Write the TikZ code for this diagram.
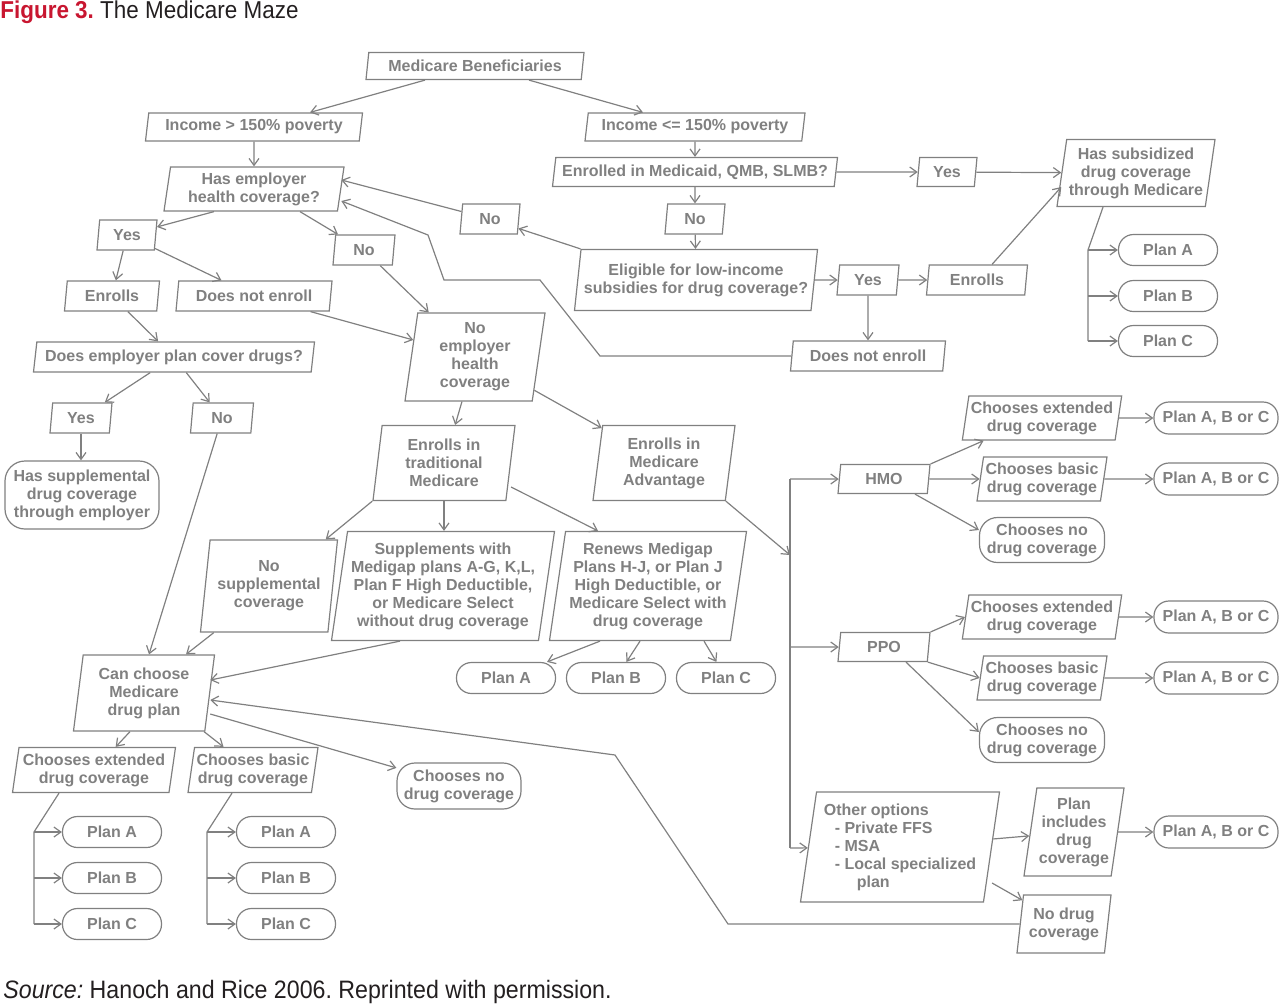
\documentclass[tikz,border=0pt]{standalone}
\usepackage{fontspec}
\setmainfont{Liberation Sans}
\newfontfamily\capfont[FakeStretch=0.92]{Liberation Sans}
\usetikzlibrary{shapes.geometric,arrows.meta}
\definecolor{mazegray}{RGB}{128,128,128}
\definecolor{mazered}{RGB}{200,22,48}
\definecolor{mazeink}{RGB}{35,31,32}
\frenchspacing
\begin{document}
\begin{tikzpicture}[x=0.5pt,y=-0.5pt,
    every node/.style={font=\fontsize{8}{9}\selectfont\bfseries, text=mazegray},
    pbox/.style 2 args={draw=mazegray, line width=0.6pt, trapezium, trapezium left angle=80, trapezium right angle=100, trapezium stretches body, align=center, inner sep=1pt, minimum width=0.5pt*#1, minimum height=0.5pt*#2},
    rbox/.style 2 args={draw=mazegray, line width=0.6pt, rounded corners=7.5pt, align=center, inner sep=1pt, minimum width=0.5pt*#1, minimum height=0.5pt*#2},
    conn/.style={draw=mazegray, line width=0.6pt, -{Straight Barb[length=3.5pt,width=5pt]}},
    wire/.style={draw=mazegray, line width=0.6pt},
    captext/.style={anchor=base west, inner sep=0pt, font=\capfont\fontsize{#1}{14}\selectfont, text=mazeink}]
    \useasboundingbox (0,0) rectangle (1280,1003);
    \node[captext=12.2] (title) at (0,18) {\textcolor{mazered}{\bfseries Figure 3.} The Medicare Maze};
    \node[captext=12.6] (source) at (3,998) {\textit{Source:} Hanoch and Rice 2006. Reprinted with permission.};

    \node[pbox={218}{27}] (ben) at (475,66) {Medicare Beneficiaries};
    \node[pbox={217}{28}] (hiinc) at (254,127) {Income > 150\% poverty};
    \node[pbox={220}{28}] (loinc) at (695,127) {Income <= 150\% poverty};
    \node[pbox={285}{29}] (medicaid) at (695,172) {Enrolled in Medicaid, QMB, SLMB?};
    \node[pbox={60}{29}] (yesmc) at (947,172) {Yes};
    \node[pbox={158}{67}] (subsid) at (1136,173) {Has subsidized\\drug coverage\\through Medicare};
    \node[pbox={60}{30}] (nomc) at (695,219) {No};
    \node[pbox={243}{61}] (elig) at (696,280) {Eligible for low-income\\subsidies for drug coverage?};
    \node[pbox={62}{30}] (yeselig) at (868,280) {Yes};
    \node[pbox={101}{30}] (enrlis) at (977,280) {Enrolls};
    \node[pbox={155}{30}] (nolis) at (868,356) {Does not enroll};
    \node[rbox={99}{31}] (sa) at (1168,250) {Plan A};
    \node[rbox={99}{31}] (sb) at (1168,296) {Plan B};
    \node[rbox={99}{31}] (sc) at (1168,341) {Plan C};
    \node[pbox={60}{30}] (noelig) at (490,219) {No};

    \node[pbox={180}{44}] (hasemp) at (254,189) {Has employer\\health coverage?};
    \node[pbox={60}{30}] (yesemp) at (127,235) {Yes};
    \node[pbox={62}{30}] (noemp) at (364,250) {No};
    \node[pbox={95}{30}] (enremp) at (112,296) {Enrolls};
    \node[pbox={156}{30}] (notemp) at (254,296) {Does not enroll};
    \node[pbox={281}{30}] (empdrug) at (174,357) {Does employer plan cover drugs?};
    \node[pbox={140}{88}] (noeh) at (475,357) {No\\employer\\health\\coverage};
    \node[pbox={62}{30}] (yesdrug) at (81,418) {Yes};
    \node[pbox={63}{30}] (nodrug) at (222,418) {No};
    \node[rbox={154}{68}, rounded corners=10pt] (supemp) at (82,495) {Has supplemental\\drug coverage\\through employer};

    \node[pbox={142}{75}] (trad) at (444,463) {Enrolls in\\traditional\\Medicare};
    \node[pbox={142}{75}] (adv) at (664,463) {Enrolls in\\Medicare\\Advantage};
    \node[pbox={137}{92}] (nosup) at (269,586) {No\\supplemental\\coverage};
    \node[pbox={223}{109}] (medigap) at (443,586) {Supplements with\\Medigap plans A-G, K,L,\\Plan F High Deductible,\\or Medicare Select\\without drug coverage};
    \node[pbox={197}{109}] (renew) at (648,586) {Renews Medigap\\Plans H-J, or Plan J\\High Deductible, or\\Medicare Select with\\drug coverage};
    \node[rbox={99}{31}] (ga) at (506,678) {Plan A};
    \node[rbox={99}{31}] (gb) at (616,678) {Plan B};
    \node[rbox={99}{31}] (gc) at (726,678) {Plan C};

    \node[pbox={141}{76}] (canch) at (144,693) {Can choose\\Medicare\\drug plan};
    \node[pbox={163}{45}] (ext) at (94,770) {Chooses extended\\drug coverage};
    \node[pbox={122}{45}] (bas) at (253,770) {Chooses basic\\drug coverage};
    \node[rbox={124}{46}, rounded corners=9pt] (none) at (459,786) {Chooses no\\drug coverage};
    \node[rbox={99}{31}] (xa) at (112,832) {Plan A};
    \node[rbox={99}{31}] (xb) at (112,878) {Plan B};
    \node[rbox={99}{31}] (xc) at (112,924) {Plan C};
    \node[rbox={99}{31}] (ba) at (286,832) {Plan A};
    \node[rbox={99}{31}] (bb) at (286,878) {Plan B};
    \node[rbox={99}{31}] (bc) at (286,924) {Plan C};

    \node[pbox={92}{29}] (hmo) at (884,479) {HMO};
    \node[pbox={157}{44}] (hext) at (1042,418) {Chooses extended\\drug coverage};
    \node[pbox={127}{44}] (hbas) at (1042,479) {Chooses basic\\drug coverage};
    \node[rbox={125}{45}, rounded corners=9pt] (hno) at (1042,540) {Chooses no\\drug coverage};
    \node[rbox={124}{32}] (hextp) at (1216,418) {Plan A, B or C};
    \node[rbox={124}{32}] (hbasp) at (1216,479) {Plan A, B or C};
    \node[pbox={92}{29}] (ppo) at (884,647) {PPO};
    \node[pbox={157}{44}] (pext) at (1042,617) {Chooses extended\\drug coverage};
    \node[pbox={127}{44}] (pbas) at (1042,678) {Chooses basic\\drug coverage};
    \node[rbox={125}{45}, rounded corners=9pt] (pno) at (1042,740) {Chooses no\\drug coverage};
    \node[rbox={124}{32}] (pextp) at (1216,617) {Plan A, B or C};
    \node[rbox={124}{32}] (pbasp) at (1216,678) {Plan A, B or C};
    \node[pbox={199}{110}, align=left] (other) at (900,847) {Other options\\\hspace*{5.5pt}- Private FFS\\\hspace*{5.5pt}- MSA\\\hspace*{5.5pt}- Local specialized\\\hspace*{16.5pt}plan};
    \node[pbox={100}{88}] (incl) at (1074,832) {Plan\\includes\\drug\\coverage};
    \node[rbox={124}{32}] (oplan) at (1216,832) {Plan A, B or C};
    \node[pbox={94}{58}] (nodc) at (1064,924) {No drug\\coverage};

    \coordinate (rbus) at (1088,250);
    \coordinate (abus) at (790,479);
    \coordinate (abusend) at (790,848);
    \coordinate (amid) at (790,555);
    \coordinate (xbus) at (34,832);
    \coordinate (bbus) at (207,832);

    \draw[conn] ([xshift=-25pt]ben.south) -- ([xshift=28pt]hiinc.north);
    \draw[conn] ([xshift=27pt]ben.south) -- ([xshift=-26pt]loinc.north);
    \draw[conn] (hiinc) -- (hasemp);
    \draw[conn] (loinc) -- (medicaid);
    \draw[conn] (medicaid) -- (yesmc);
    \draw[conn] (yesmc) -- (subsid);
    \draw[conn] (medicaid) -- (nomc);
    \draw[conn] (nomc) -- (elig);
    \draw[conn] (elig) -- (yeselig);
    \draw[conn] (yeselig) -- (enrlis);
    \draw[conn] ([xshift=7.5pt]enrlis.north) -- ([yshift=-7pt]subsid.west);
    \draw[conn] (yeselig) -- (nolis);
    \draw[wire] ([xshift=-16.5pt]subsid.south) -- (rbus) -- (rbus |- sc);
    \draw[conn] (rbus) -- (sa);
    \draw[conn] (rbus |- sb) -- (sb);
    \draw[conn] (rbus |- sc) -- (sc);
    \draw[conn] (elig.top left corner) -- (noelig);
    \draw[conn] (noelig) -- ([yshift=4.5pt]hasemp.east);
    \draw[conn] (nolis) -- (600,356) -- (540,280) -- (444,280) -- (428,235) -- ([yshift=-6pt]hasemp.east);

    \draw[conn] ([xshift=-20pt]hasemp.south) -- (yesemp);
    \draw[conn] ([xshift=23pt]hasemp.south) -- (noemp);
    \draw[conn] (yesemp) -- (enremp);
    \draw[conn] (yesemp) -- (notemp);
    \draw[conn] (enremp) -- (empdrug);
    \draw[conn] (notemp) -- (noeh);
    \draw[conn] (noemp) -- (noeh);
    \draw[conn] (empdrug) -- (yesdrug);
    \draw[conn] (empdrug) -- (nodrug);
    \draw[conn] (yesdrug.south) -- (yesdrug.south |- supemp.north);
    \draw[conn] (nodrug) -- ([xshift=2.5pt]canch.north);

    \draw[conn] (noeh) -- (trad);
    \draw[conn] (noeh) -- (adv);
    \draw[conn] (adv.bottom right corner) -- (amid);
    \draw[wire] (abus) -- (abusend);
    \draw[conn] (abus) -- (hmo);
    \draw[conn] (abus |- ppo) -- (ppo);
    \draw[conn] (abusend) -- (other);
    \draw[conn] (trad.bottom left corner) -- (nosup);
    \draw[conn] (trad.south) -- (trad.south |- medigap.north);
    \draw[conn] ([yshift=-12pt]trad.east) -- ([xshift=-25pt]renew.north);
    \draw[conn] ([xshift=7pt]nosup.bottom left corner) -- ([xshift=21pt]canch.north);
    \draw[conn] ([xshift=-21.5pt]medigap.south) -- ([yshift=6.5pt]canch.east);
    \draw[conn] ([xshift=-24pt]renew.south) -- (ga);
    \draw[conn] ([xshift=-4pt]renew.south) -- (gb);
    \draw[conn] ([xshift=28pt]renew.south) -- (gc);

    \draw[conn] ([xshift=-7pt]canch.south) -- (ext);
    \draw[conn] ([xshift=30pt]canch.south) -- (bas);
    \draw[conn] ([yshift=-10.5pt]canch.east) -- (none);
    \draw[conn] (nodc.west) -- (728,924) -- (615,755) -- ([yshift=-3.5pt]canch.east);
    \draw[wire] ([xshift=-17.5pt]ext.south) -- (xbus) -- (xbus |- xc);
    \draw[conn] (xbus) -- (xa);
    \draw[conn] (xbus |- xb) -- (xb);
    \draw[conn] (xbus |- xc) -- (xc);
    \draw[wire] ([xshift=-10.5pt]bas.south) -- (bbus) -- (bbus |- bc);
    \draw[conn] (bbus) -- (ba);
    \draw[conn] (bbus |- bb) -- (bb);
    \draw[conn] (bbus |- bc) -- (bc);

    \draw[conn] (hmo.top right corner) -- ([xshift=11pt]hext.bottom left corner);
    \draw[conn] (hmo) -- (hbas);
    \draw[conn] ([xshift=15.5pt]hmo.south) -- ([yshift=5pt]hno.west);
    \draw[conn] (hext) -- (hextp);
    \draw[conn] (hbas) -- (hbasp);
    \draw[conn] (ppo.top right corner) -- (pext.left side);
    \draw[conn] (ppo.bottom right corner) -- (pbas.left side);
    \draw[conn] ([xshift=11pt]ppo.south) -- ([yshift=4pt]pno.west);
    \draw[conn] (pext) -- (pextp);
    \draw[conn] (pbas) -- (pbasp);
    \draw[conn] (other) -- (incl);
    \draw[conn] ([yshift=-18pt]other.right side) -- (nodc);
    \draw[conn] (incl) -- (oplan);
\end{tikzpicture}
\end{document}
